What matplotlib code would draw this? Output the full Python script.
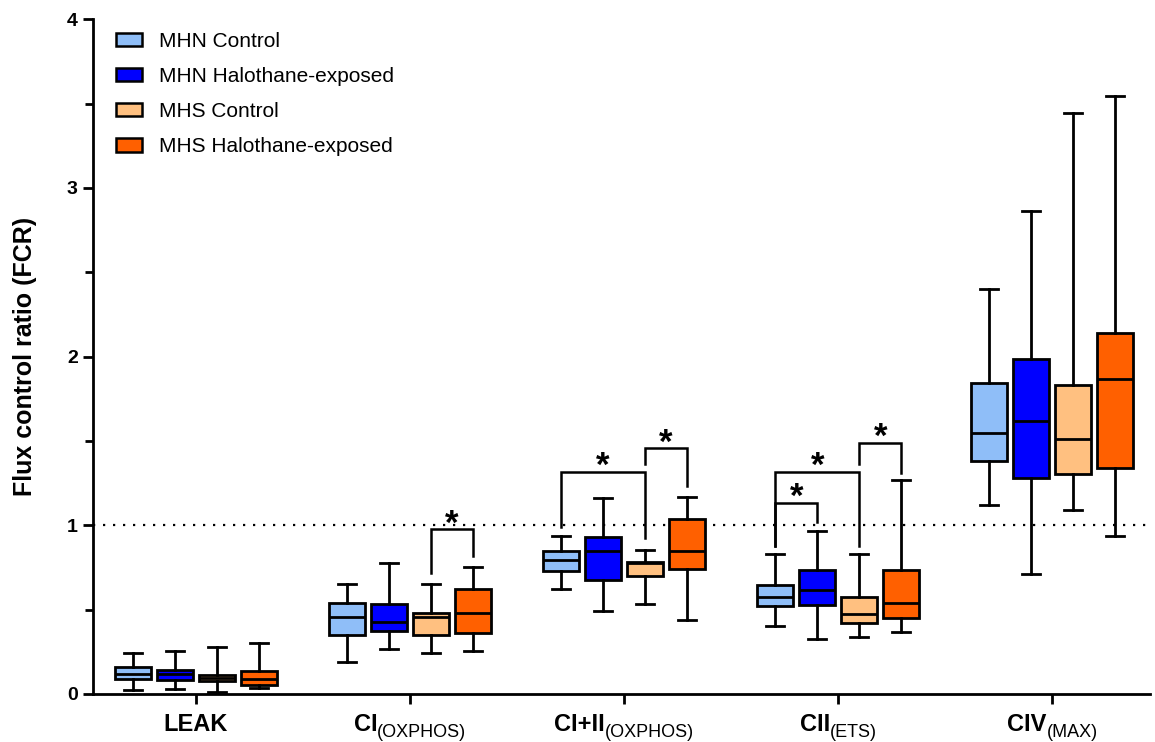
import numpy as np
import matplotlib
matplotlib.use("Agg")
import matplotlib.pyplot as plt
import matplotlib.patches as mpatches
from matplotlib.ticker import MultipleLocator

plt.rcParams.update({'font.family': ['Liberation Sans', 'DejaVu Sans']})

# ---- data: five-number summaries per group (order = series below) ----
categories = ["LEAK", "CI(OXPHOS)", "CI+II(OXPHOS)", "CII(ETS)", "CIV(MAX)"]
tick_main = ["LEAK", "CI", "CI+II", "CII", "CIV"]
tick_sub = ["", "(OXPHOS)", "(OXPHOS)", "(ETS)", "(MAX)"]
series = ["MHN Control", "MHN Halothane-exposed", "MHS Control", "MHS Halothane-exposed"]
colors = ["#8FBEF8", "#0000FF", "#FFC080", "#FF6000"]

# each row: [whisker low, q1, median, q3, whisker high] for LEAK, CI, CI+II, CII, CIV
mhn_ctrl = [[0.024, 0.087, 0.117, 0.158, 0.245],
            [0.19, 0.348, 0.458, 0.537, 0.652],
            [0.62, 0.727, 0.794, 0.847, 0.936],
            [0.403, 0.52, 0.577, 0.648, 0.83],
            [1.123, 1.38, 1.548, 1.844, 2.40]]
mhn_halo = [[0.028, 0.083, 0.118, 0.142, 0.257],
            [0.265, 0.371, 0.428, 0.533, 0.778],
            [0.494, 0.676, 0.849, 0.932, 1.16],
            [0.324, 0.527, 0.616, 0.733, 0.964],
            [0.711, 1.281, 1.62, 1.988, 2.862]]
mhs_ctrl = [[0.012, 0.077, 0.097, 0.114, 0.28],
            [0.245, 0.352, 0.458, 0.478, 0.65],
            [0.531, 0.699, 0.774, 0.782, 0.855],
            [0.336, 0.419, 0.472, 0.577, 0.83],
            [1.089, 1.306, 1.511, 1.832, 3.447]]
mhs_halo = [[0.034, 0.053, 0.087, 0.136, 0.304],
            [0.253, 0.363, 0.478, 0.622, 0.751],
            [0.439, 0.739, 0.847, 1.037, 1.169],
            [0.369, 0.452, 0.537, 0.735, 1.268],
            [0.938, 1.341, 1.869, 2.141, 3.548]]
all_series = [mhn_ctrl, mhn_halo, mhs_ctrl, mhs_halo]

# significance brackets: (group, box a, box b, bar height, leg a bottom, leg b bottom)
brackets = [(1, 2, 3, 0.976, 0.715, 0.818),
            (2, 0, 2, 1.317, 0.991, 0.926),
            (2, 2, 3, 1.456, 1.363, 1.233),
            (3, 0, 1, 1.134, 0.879, 1.021),
            (3, 0, 2, 1.317, 0.879, 0.879),
            (3, 2, 3, 1.489, 1.363, 1.308)]

offsets = [-0.294, -0.098, 0.098, 0.294]
box_w = 0.168

fig = plt.figure(figsize=(11.55, 7.42), dpi=100)
ax = fig.add_axes([0.0805, 0.0647, 0.9155, 0.9093])

for s, (data, col) in enumerate(zip(all_series, colors)):
    stats = [dict(whislo=r[0], q1=r[1], med=r[2], q3=r[3], whishi=r[4], fliers=[])
             for r in data]
    pos = np.arange(len(categories)) + offsets[s]
    ax.bxp(stats, positions=pos, widths=box_w, patch_artist=True, showfliers=False,
           boxprops=dict(facecolor=col, edgecolor='black', linewidth=2.0),
           medianprops=dict(color='black', linewidth=2.0),
           whiskerprops=dict(color='black', linewidth=2.0),
           capprops=dict(color='black', linewidth=2.0))

ax.axhline(1.0, color='black', ls=(0, (1, 3.5)), lw=1.6, zorder=0)

for g, a, b, top, ya, yb in brackets:
    xa, xb = g + offsets[a], g + offsets[b]
    ax.plot([xa, xa, xb, xb], [ya, top, top, yb], color='black', lw=1.8,
            solid_joinstyle='miter', zorder=3)
    ax.text((xa + xb) / 2, top - 0.025, "*", ha='center', va='baseline',
            fontsize=25, fontweight='bold')

ax.set_xlim(-0.481, 4.458)
ax.set_ylim(0, 4)
ax.spines['top'].set_visible(False)
ax.spines['right'].set_visible(False)
for sp in ['left', 'bottom']:
    ax.spines[sp].set_linewidth(2.0)
ax.yaxis.set_major_locator(MultipleLocator(1))
ax.yaxis.set_minor_locator(MultipleLocator(0.5))
ax.tick_params(axis='y', which='major', length=7.5, width=2.0, labelsize=14)
ax.tick_params(axis='y', which='minor', length=5.5, width=2.0)
for t in ax.get_yticklabels():
    t.set_fontweight('bold')
ax.set_xticks(np.arange(len(categories)))
ax.set_xticklabels([])
ax.tick_params(axis='x', length=7.5, width=2.0)
ax.set_ylabel("Flux control ratio (FCR)", fontsize=18, fontweight='bold')
ax.yaxis.set_label_coords(-0.053, 0.5)

# category labels: bold name followed by a lowered, smaller qualifier
renderer = fig.canvas.get_renderer()
px2pt = 72.0 / fig.dpi
for i, (m, s) in enumerate(zip(tick_main, tick_sub)):
    t1 = ax.annotate(m, xy=(i, 0), xycoords=('data', 'axes fraction'), xytext=(0, -26.6),
                     textcoords='offset points', ha='left', va='baseline',
                     fontsize=17, fontweight='bold', annotation_clip=False)
    t2 = ax.annotate(s, xy=(i, 0), xycoords=('data', 'axes fraction'), xytext=(0, -31),
                     textcoords='offset points', ha='left', va='baseline',
                     fontsize=13, annotation_clip=False)
    w1 = t1.get_window_extent(renderer).width
    w2 = t2.get_window_extent(renderer).width if s else 0.0
    start = -(w1 + w2) / 2
    t1.xyann = (start * px2pt, -26.6)
    t2.xyann = ((start + w1) * px2pt, -31)

handles = [mpatches.Patch(facecolor=c, edgecolor='black', lw=1.8, label=l)
           for c, l in zip(colors, series)]
ax.legend(handles=handles, loc='upper left', bbox_to_anchor=(0.0218, 0.981), frameon=False,
          fontsize=15, handlelength=1.25, handleheight=0.6, labelspacing=0.77,
          handletextpad=0.82, borderpad=0, borderaxespad=0)

fig.savefig("out.png", dpi=100, facecolor='white')
